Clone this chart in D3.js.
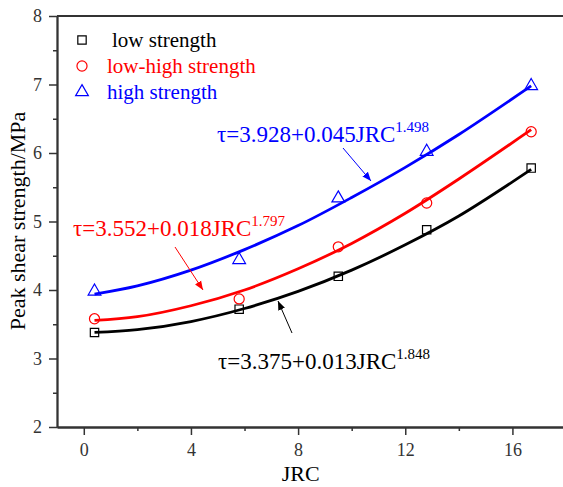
<!DOCTYPE html>
<html><head><meta charset="utf-8">
<script src="https://cdn.jsdelivr.net/npm/d3@7"></script>
<style>body{margin:0;background:#fff;} svg{display:block;} svg text{font-family:"Liberation Serif","DejaVu Serif","Times New Roman",serif;}</style>
</head><body>
<svg id="c" width="563" height="487"></svg>
<script>
const jrc = [0.4, 5.8, 9.5, 12.8, 16.7];
const lowVals = [3.38, 3.72, 4.20, 4.88, 5.78];
const lowHighVals = [3.58, 3.87, 4.63, 5.27, 6.31];
const highVals = [3.98, 4.44, 5.34, 6.02, 6.98];
// fitted curves
const curveX = [0.4, 2, 4, 6, 8, 10, 12, 14, 16.7];
const lowCurve = [3.38, 3.42, 3.54, 3.73, 3.98, 4.29, 4.66, 5.08, 5.76];
const lowHighCurve = [3.556, 3.61, 3.77, 4.00, 4.31, 4.68, 5.12, 5.62, 6.34];
const highCurve = [3.94, 4.06, 4.29, 4.59, 4.94, 5.35, 5.79, 6.27, 6.98];
const xTicks = [0, 4, 8, 12, 16];
const yTicks = [2, 3, 4, 5, 6, 7, 8];
const seriesNames = ["low strength", "low-high strength", "high strength"];
const colors = ["#000000", "#ff0000", "#0000ff"];
const equations = [
  {base: "τ=3.375+0.013JRC", exp: "1.848"},
  {base: "τ=3.552+0.018JRC", exp: "1.797"},
  {base: "τ=3.928+0.045JRC", exp: "1.498"}
];

const FONT = '"Liberation Serif","DejaVu Serif","Times New Roman",serif';
const svg = d3.select("#c");
const L = 57, R = 566, T = 16, B = 427;
const x = d3.scaleLinear().domain([-1, 18]).range([L, R]);
const y = d3.scaleLinear().domain([2, 8]).range([B, T]);

// axes
const axisColor = "#333";
const fmt = d3.format("d");
const xAx = svg.append("g").attr("transform", `translate(0,${B})`)
  .call(d3.axisBottom(x).tickValues(xTicks).tickFormat(fmt).tickSize(8).tickSizeOuter(0).tickPadding(8));
const xMinor = svg.append("g").attr("transform", `translate(0,${B})`)
  .call(d3.axisBottom(x).tickValues([2, 6, 10, 14]).tickSize(4).tickSizeOuter(0).tickFormat(""));
const yAx = svg.append("g").attr("transform", `translate(${L},0)`)
  .call(d3.axisLeft(y).tickValues(yTicks).tickFormat(fmt).tickSize(8).tickSizeOuter(0).tickPadding(7));
const yMinor = svg.append("g").attr("transform", `translate(${L},0)`)
  .call(d3.axisLeft(y).tickValues([2.5, 3.5, 4.5, 5.5, 6.5, 7.5]).tickSize(4).tickSizeOuter(0).tickFormat(""));
[xAx, xMinor, yAx, yMinor].forEach(g => {
  g.attr("font-family", FONT);
  g.select(".domain").attr("stroke", axisColor).attr("stroke-width", 1.8);
  g.selectAll(".tick line").attr("stroke", axisColor).attr("stroke-width", 1.5);
  g.selectAll(".tick text").attr("font-family", FONT).attr("font-size", 18).attr("fill", "#333");
});
svg.append("line").attr("x1", L).attr("x2", R).attr("y1", T).attr("y2", T)
  .attr("stroke", axisColor).attr("stroke-width", 1.8);

// titles
svg.append("text").attr("x", x(8.1)).attr("y", 481).attr("text-anchor", "middle")
  .attr("font-family", FONT).attr("font-size", 22).text("JRC");
svg.append("text").attr("transform", "translate(25,221) rotate(-90)").attr("text-anchor", "middle")
  .attr("font-family", FONT).attr("font-size", 22).text("Peak shear strength/MPa");

// curves
const line = d3.line().x(d => x(d[0])).y(d => y(d[1])).curve(d3.curveCatmullRom);
const curves = [lowCurve, lowHighCurve, highCurve];
curves.forEach((c, i) => {
  svg.append("path").datum(curveX.map((v, k) => [v, c[k]]))
    .attr("d", line).attr("fill", "none").attr("stroke", colors[i]).attr("stroke-width", 2.8);
});

// markers
const allVals = [lowVals, lowHighVals, highVals];
const sym = [d3.symbolSquare, d3.symbolCircle, d3.symbolTriangle];
const symSize = [70, 80, 70];
allVals.forEach((vals, i) => {
  svg.append("g").selectAll("path").data(jrc.map((v, k) => [v, vals[k]])).join("path")
    .attr("d", d3.symbol().type(sym[i]).size(symSize[i]))
    .attr("transform", d => `translate(${x(d[0])},${y(d[1])})`)
    .attr("fill", "none").attr("stroke", colors[i]).attr("stroke-width", 1.2);
});

// legend
const legY = [40, 66, 92];
const legTextX = [112, 107, 107];
seriesNames.forEach((n, i) => {
  svg.append("path").attr("d", d3.symbol().type(sym[i]).size(symSize[i])())
    .attr("transform", `translate(82,${legY[i]})`).attr("fill", "none")
    .attr("stroke", colors[i]).attr("stroke-width", 1.2);
  svg.append("text").attr("x", legTextX[i]).attr("y", legY[i] + 7).attr("font-size", 21)
    .attr("font-family", FONT).attr("fill", colors[i]).text(n);
});

// equations
const eqPos = [[218, 369], [73, 236], [217, 142]];
equations.forEach((e, i) => {
  const t = svg.append("text").attr("x", eqPos[i][0]).attr("y", eqPos[i][1])
    .attr("font-family", FONT).attr("font-size", 23).attr("fill", colors[i]);
  t.append("tspan").text(e.base);
  t.append("tspan").attr("dy", -10).attr("font-size", 15).text(e.exp);
});

// arrows
const defs = svg.append("defs");
colors.forEach((c, i) => {
  defs.append("marker").attr("id", "ah" + i).attr("viewBox", "0 0 10 10")
    .attr("refX", 10).attr("refY", 5).attr("markerWidth", 9).attr("markerHeight", 9)
    .attr("markerUnits", "userSpaceOnUse").attr("orient", "auto")
    .append("path").attr("d", "M0,1 L10,5 L0,9 Z").attr("fill", c);
});
const arrows = [[292, 333, 278, 301], [175, 247, 203, 290], [343, 148, 371, 181]];
arrows.forEach((a, i) => {
  svg.append("line").attr("x1", a[0]).attr("y1", a[1]).attr("x2", a[2]).attr("y2", a[3])
    .attr("stroke", colors[i]).attr("stroke-width", 1).attr("marker-end", `url(#ah${i})`);
});
</script>
</body></html>
